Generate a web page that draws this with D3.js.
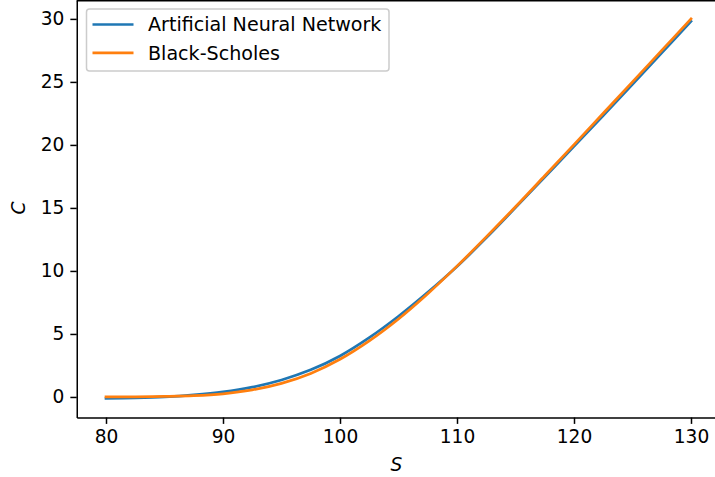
<!DOCTYPE html>
<html>
<head>
<meta charset="utf-8">
<script src="https://cdn.jsdelivr.net/npm/d3@7"></script>
<style>
  body { margin: 0; background: #fff; }
  text { font-family: "DejaVu Sans", sans-serif; }
</style>
</head>
<body>
<svg id="chart"></svg>
<script>
// spot prices read along the x axis
const spot = [80, 82.5, 85, 87.5, 90, 92.5, 95, 97.5, 100, 102.5, 105,
  107.5, 110, 112.5, 115, 117.5, 120, 122.5, 125, 127.5, 130];

// option price, neural network
const annPrice = [-0.12, -0.08, 0.0, 0.16, 0.40, 0.78, 1.35, 2.15, 3.25, 4.70, 6.40,
  8.30, 10.35, 12.62, 15.02, 17.45, 19.88, 22.33, 24.80, 27.30, 29.80];

// option price, Black-Scholes
const bsPrice = [0.0, 0.01, 0.04, 0.10, 0.25, 0.56, 1.08, 1.87, 2.99, 4.45, 6.19,
  8.19, 10.38, 12.70, 15.09, 17.55, 20.02, 22.51, 25.00, 27.50, 30.00];

const xTicks = [80, 90, 100, 110, 120, 130];
const yTicks = [0, 5, 10, 15, 20, 25, 30];
const seriesNames = ["Artificial Neural Network", "Black-Scholes"];
const colors = ["#1f77b4", "#ff7f0e"];

const W = 715, H = 477;
const fs = 18.6;

const svg = d3.select("#chart")
    .attr("width", W)
    .attr("height", H);

const x = d3.scaleLinear().domain([77.5, 132.5]).range([76.75, 720.25]);
const y = d3.scaleLinear().domain([-1.63, 31.5]).range([417.5, 0]);

// lines
const line = d3.line()
    .x(d => x(d[0]))
    .y(d => y(d[1]))
    .curve(d3.curveCatmullRom);

[annPrice, bsPrice].forEach((vals, i) => {
  svg.append("path")
    .datum(spot.map((s, j) => [s, vals[j]]))
    .attr("fill", "none")
    .attr("stroke", colors[i])
    .attr("stroke-width", 2.7)
    .attr("stroke-linecap", "square")
    .attr("d", line);
});

// axes
const xAxis = svg.append("g")
    .attr("transform", `translate(0,${y(-1.63)})`)
    .call(d3.axisBottom(x).tickValues(xTicks).tickSize(6.4).tickPadding(6).tickSizeOuter(0));
const yAxis = svg.append("g")
    .attr("transform", `translate(${x(77.5)},0)`)
    .call(d3.axisLeft(y).tickValues(yTicks).tickSize(6.4).tickPadding(6).tickSizeOuter(0));

[xAxis, yAxis].forEach(g => {
  g.select(".domain").attr("stroke", "#000").attr("stroke-width", 1.5);
  g.selectAll(".tick line").attr("stroke", "#000").attr("stroke-width", 1.5);
  g.selectAll(".tick text")
    .attr("font-size", fs)
    .attr("fill", "#000")
    .style("font-family", "DejaVu Sans");
});

// top spine
svg.append("line")
    .attr("x1", x(77.5)).attr("x2", W)
    .attr("y1", y(31.5) + 0.75).attr("y2", y(31.5) + 0.75)
    .attr("stroke", "#000").attr("stroke-width", 1.5);

// axis labels
svg.append("text")
    .attr("x", (x(77.5) + x(132.5)) / 2 - 2)
    .attr("y", 470.5)
    .attr("text-anchor", "middle")
    .attr("font-size", fs)
    .attr("font-style", "italic")
    .text("S");

svg.append("text")
    .attr("transform", `translate(25,${y(15)}) rotate(-90)`)
    .attr("text-anchor", "middle")
    .attr("font-size", fs)
    .attr("font-style", "italic")
    .text("C");

// legend
const lg = svg.append("g").attr("transform", "translate(86.5,9)");
lg.append("rect")
    .attr("width", 302.5)
    .attr("height", 62)
    .attr("rx", 3)
    .attr("fill", "#fff")
    .attr("fill-opacity", 0.8)
    .attr("stroke", "#cccccc")
    .attr("stroke-width", 1.5);

seriesNames.forEach((name, i) => {
  const cy = 15.5 + i * 28.4;
  lg.append("line")
    .attr("x1", 6).attr("x2", 47)
    .attr("y1", cy).attr("y2", cy)
    .attr("stroke", colors[i])
    .attr("stroke-width", 2.7);
  lg.append("text")
    .attr("x", 61.5)
    .attr("y", cy)
    .attr("dy", "0.36em")
    .attr("font-size", fs + 0.5)
    .text(name);
});
</script>
</body>
</html>
